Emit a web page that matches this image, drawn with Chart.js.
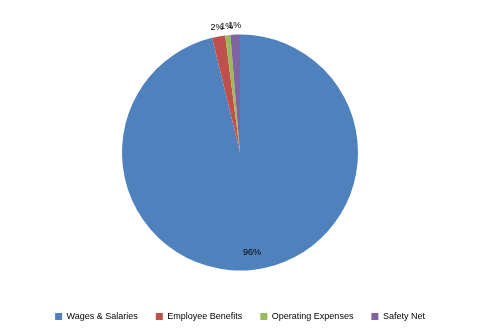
<html>
<head>
<script src="https://cdn.jsdelivr.net/npm/chart.js"></script>
<style>
  body { margin: 0; background: #fff; }
  #wrap { width: 480px; height: 333px; }
</style>
</head>
<body>
<div id="wrap"><canvas id="myChart"></canvas></div>
<script>
var labels = ["Wages & Salaries", "Employee Benefits", "Operating Expenses", "Safety Net"];
var values = [96.2, 1.8, 0.7, 1.3];
var colors = ["#4F81BD", "#C0504D", "#9BBB59", "#8064A2"];

// percent labels, big slice inside, small ones just outside
var pctLabels = {
  id: 'pctLabels',
  afterDatasetsDraw: function(chart) {
    var ctx = chart.ctx;
    var meta = chart.getDatasetMeta(0);
    var total = values.reduce(function(a, b) { return a + b; }, 0);
    ctx.save();
    ctx.font = '9px "Liberation Sans", Arial, sans-serif';
    ctx.fillStyle = '#000';
    ctx.textAlign = 'center';
    ctx.textBaseline = 'middle';
    meta.data.forEach(function(arc, i) {
      var mid = (arc.startAngle + arc.endAngle) / 2;
      var pct = values[i] / total * 100;
      var r = pct > 50 ? arc.outerRadius * 0.85 : arc.outerRadius + 9;
      var x = arc.x + Math.cos(mid) * r;
      var y = arc.y + Math.sin(mid) * r;
      ctx.fillText(Math.round(pct) + '%', x, y);
    });
    ctx.restore();
  }
};

var ctx = document.getElementById('myChart').getContext('2d');
var myChart = new Chart(ctx, {
  type: 'pie',
  data: {
    labels: labels,
    datasets: [{
      data: values,
      backgroundColor: colors,
      borderWidth: 0,
      radius: 118
    }]
  },
  options: {
    responsive: true,
    maintainAspectRatio: false,
    animation: false,
    layout: { padding: { top: 11, bottom: 2 } },
    plugins: {
      tooltip: { enabled: false },
      legend: {
        position: 'bottom',
        labels: {
          boxWidth: 7,
          boxHeight: 7,
          padding: 18,
          color: '#000',
          font: { size: 9, family: '"Liberation Sans", Arial, sans-serif' }
        }
      }
    }
  },
  plugins: [pctLabels]
});
</script>
</body>
</html>
